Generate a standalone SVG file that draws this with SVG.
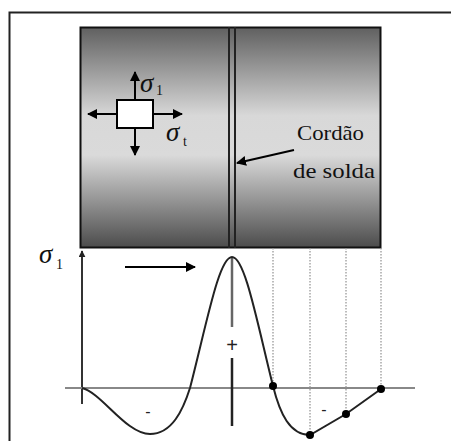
<svg xmlns="http://www.w3.org/2000/svg" width="451" height="441" viewBox="0 0 451 441">
<defs>
<linearGradient id="plate" x1="0" y1="0" x2="0" y2="1">
<stop offset="0" stop-color="#606060"/>
<stop offset="0.4" stop-color="#d8d8d8"/>
<stop offset="0.58" stop-color="#dadada"/>
<stop offset="1" stop-color="#4c4c4c"/>
</linearGradient>
<marker id="ah" viewBox="0 0 10 10" refX="9" refY="5" markerWidth="10" markerHeight="10" markerUnits="userSpaceOnUse" orient="auto">
<path d="M0,0 L10,5 L0,10 Z" fill="#000"/>
</marker>
<marker id="ahs" viewBox="0 0 10 10" refX="9" refY="5" markerWidth="7" markerHeight="7" markerUnits="userSpaceOnUse" orient="auto">
<path d="M0,0 L10,5 L0,10 Z" fill="#222"/>
</marker>
</defs>
<style>
.frame{fill:none;stroke:#222;stroke-width:2}
.arr{stroke:#000;stroke-width:2;fill:none;marker-end:url(#ah)}
.sig{font-style:italic;fill:#111}
.sub{fill:#111}
.lbl{fill:#111;font-size:22px}
.dot{fill:#000}
.dash{stroke:#999;stroke-width:1.3;stroke-dasharray:1.5,1.5;fill:none}
.sign{fill:#222;text-anchor:middle}
</style>
<rect width="451" height="441" fill="#fff"/>
<g id="frame">
<path class="frame" d="M451,12.5 L9.5,12.5 L9.5,441"/>
</g>
<g id="plate">
<rect x="80.5" y="27.5" width="300" height="220" fill="url(#plate)" stroke="#111" stroke-width="2"/>
<line x1="229" y1="27" x2="229" y2="248" stroke="#222" stroke-width="2"/>
<line x1="235" y1="27" x2="235" y2="248" stroke="#222" stroke-width="2"/>
</g>
<g id="element" font-family="Liberation Serif, serif">
<rect x="117" y="100" width="36" height="28" fill="#fff" stroke="#000" stroke-width="2"/>
<line class="arr" x1="135" y1="100" x2="135" y2="72"/>
<line class="arr" x1="135" y1="128" x2="135" y2="155"/>
<line class="arr" x1="117" y1="114" x2="88" y2="114"/>
<line class="arr" x1="153" y1="114" x2="182" y2="114"/>
<text class="sig" x="140" y="92" font-size="27">σ</text>
<text class="sub" x="156" y="95" font-size="14">1</text>
<text class="sig" x="166" y="141" font-size="27">σ</text>
<text class="sub" x="183" y="146" font-size="14">t</text>
</g>
<g id="weld-label" font-family="Liberation Serif, serif">
<text class="lbl" x="297" y="140" textLength="67" lengthAdjust="spacingAndGlyphs">Cordão</text>
<text class="lbl" x="293" y="178" textLength="82" lengthAdjust="spacingAndGlyphs">de solda</text>
</g>
<g id="connectors">
<line class="arr" x1="294" y1="150" x2="237" y2="163"/>
<line class="arr" x1="125" y1="267" x2="195" y2="267"/>
</g>
<g id="chart" font-family="Liberation Serif, serif">
<line x1="82" y1="404" x2="82" y2="251" stroke="#333" stroke-width="2" marker-end="url(#ahs)"/>
<text class="sig" x="39" y="263" font-size="27">σ</text>
<text class="sub" x="56" y="269" font-size="14">1</text>
<line x1="65" y1="388" x2="415" y2="388" stroke="#888" stroke-width="2"/>
<path class="dash" d="M273,248 V386 M310,248 V435 M346,248 V414 M381,248 V389"/>
<line x1="232" y1="257" x2="232" y2="327" stroke="#666" stroke-width="2.5"/>
<line x1="232" y1="358" x2="232" y2="426" stroke="#222" stroke-width="2.5"/>
<path d="M82,388 C102,393 126,434 150,434 C172,434 183,410 190,388 C207,322 219,257 232,257 C245,257 257,322 273,386 C280,414 290,435 310,435 L346,414 L381,389" fill="none" stroke="#222" stroke-width="2"/>
<circle class="dot" cx="273" cy="386" r="4"/>
<circle class="dot" cx="310" cy="435" r="4"/>
<circle class="dot" cx="346" cy="414" r="4"/>
<circle class="dot" cx="381" cy="389" r="4"/>
<text class="sign" x="232" y="352" font-size="20" font-family="Liberation Sans, sans-serif">+</text>
<text class="sign" x="148" y="417" font-size="16" font-family="Liberation Sans, sans-serif">-</text>
<text class="sign" x="324" y="415" font-size="16" font-family="Liberation Sans, sans-serif">-</text>
</g>
</svg>
